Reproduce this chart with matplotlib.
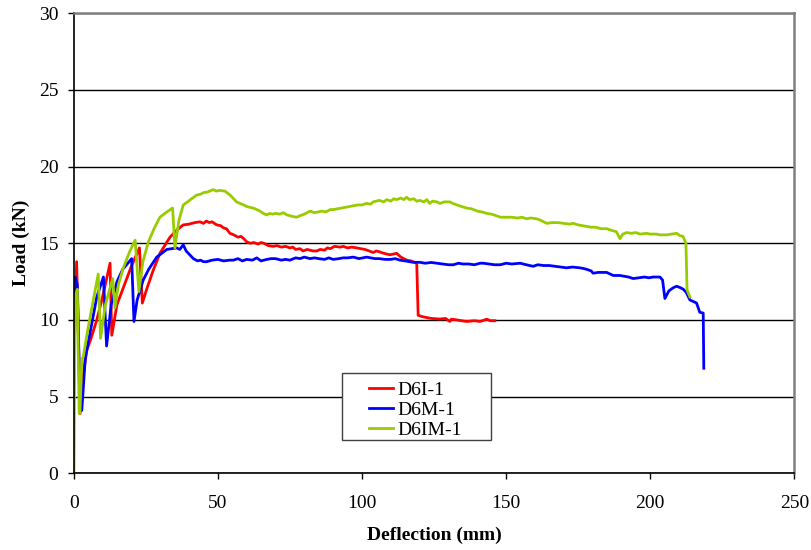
import matplotlib
matplotlib.use("Agg")
import matplotlib.pyplot as plt
from matplotlib.patches import Rectangle

# ---------------- data (deflection mm, load kN) ----------------
red_pts = [(0, 6), (0.3, 9), (1.0, 13.8), (1.5, 10), (2.2, 3.9), (3.0, 6), (4.5, 8.0), (6, 8.8),
           (8, 10), (10, 11.5), (12.6, 13.7), (13.2, 9.0), (15, 11), (18, 12.5), (20, 13.5),
           (22.8, 14.7), (23.8, 11.1), (25.3, 12.0), (27.5, 13.2), (29.9, 14.35), (33.4, 15.4),
           (36, 15.9), (38, 16.2), (40, 16.25), (42, 16.35), (43.8, 16.4), (45, 16.3), (46, 16.45),
           (47, 16.35), (48, 16.4), (49.6, 16.2), (51, 16.15), (52, 16.0), (53, 15.95),
           (54.2, 15.65), (55.5, 15.55), (57, 15.4), (58, 15.45), (59, 15.3), (60, 15.1),
           (61.2, 15.0), (62.5, 15.05), (64, 14.95), (65, 15.05), (66, 15.0), (67.5, 14.85),
           (69.2, 14.8), (70.5, 14.85), (72, 14.75), (73.5, 14.8), (75, 14.7), (76, 14.75),
           (77, 14.6), (78.5, 14.65), (79.6, 14.5), (81, 14.6), (82, 14.55), (83, 14.5),
           (84.3, 14.5), (85.5, 14.6), (87, 14.55), (88, 14.7), (89, 14.65), (90.5, 14.8),
           (92.4, 14.75), (93.5, 14.8), (95, 14.7), (96.5, 14.75), (98.2, 14.7), (99.5, 14.65),
           (101, 14.6), (102.5, 14.5), (103.9, 14.4), (105, 14.5), (106, 14.45), (107.5, 14.35),
           (109.7, 14.25), (111, 14.3), (112, 14.35), (113.5, 14.1), (115.5, 13.9), (117, 13.85),
           (118.4, 13.75), (119.0, 13.7), (119.5, 10.3), (121.3, 10.2), (124, 10.1), (127, 10.06),
           (129, 10.1), (130.5, 9.9), (131, 10.05), (133, 10.0), (134.5, 9.95), (136.3, 9.9),
           (139, 9.95), (141, 9.9), (143.3, 10.05), (144.5, 9.95), (146.1, 9.95)]

blue_pts = [(0, 6), (0.45, 12.8), (1.25, 12.3), (2.0, 6), (2.8, 4.1), (4, 7.5), (6, 9.5), (8, 11.5),
            (10.3, 12.8), (11.4, 8.3), (13, 11), (15, 12.5), (17, 13.3), (20.1, 14.0), (20.9, 9.9),
            (22, 11.3), (24.1, 12.6), (26, 13.3), (28.8, 14.1), (32.3, 14.6), (35.7, 14.7),
            (36.8, 14.6), (38, 14.9), (39, 14.5), (41.5, 14.0), (43, 13.85), (44, 13.9),
            (45, 13.8), (46.1, 13.8), (48, 13.9), (50, 13.95), (52, 13.85), (54, 13.9),
            (55.4, 13.9), (57, 14.0), (58.5, 13.85), (60, 13.95), (62, 13.9), (63.5, 14.05),
            (65, 13.85), (67, 13.95), (68.5, 14.0), (70, 14.0), (72, 13.9), (73.5, 13.95),
            (75, 13.9), (77, 14.05), (78.5, 14.0), (80, 14.1), (82, 14.0), (83.5, 14.05),
            (85, 14.0), (87, 13.95), (88.5, 14.05), (90, 13.95), (92, 14.0), (93.5, 14.05),
            (95, 14.05), (97, 14.1), (99, 14.0), (101.6, 14.1), (103, 14.05), (104.5, 14.0),
            (106, 14.0), (108, 13.95), (110, 13.95), (111.5, 14.0), (113.2, 13.9), (115, 13.85),
            (117.8, 13.76), (120.1, 13.76), (122, 13.7), (124, 13.75), (126, 13.7), (128, 13.65),
            (130, 13.6), (131.7, 13.6), (133.5, 13.7), (135, 13.65), (137, 13.65), (139, 13.6),
            (141, 13.7), (142.1, 13.7), (144, 13.65), (146, 13.6), (148, 13.6), (150, 13.7),
            (152, 13.65), (154.9, 13.7), (157, 13.6), (159.4, 13.5), (161, 13.6), (163, 13.55),
            (165, 13.55), (167, 13.5), (169, 13.45), (171, 13.4), (173, 13.45), (175.6, 13.4),
            (177, 13.35), (178, 13.3), (179.5, 13.2), (180.2, 13.05), (182, 13.1), (184.9, 13.1),
            (187.2, 12.9), (189.5, 12.9), (191, 12.85), (192.5, 12.8), (194.1, 12.7),
            (196, 12.75), (198, 12.8), (199.5, 12.75), (201, 12.8), (203.4, 12.8), (204.3, 12.6),
            (205.1, 11.4), (206.5, 11.9), (208, 12.1), (209.2, 12.2), (210.5, 12.1),
            (211.5, 12.0), (212.5, 11.8), (213.8, 11.3), (215, 11.2), (216.1, 11.1),
            (217.2, 10.5), (218.4, 10.45), (218.6, 6.85)]

green_pts = [(0, 0), (0.1, 0.2), (0.45, 11.5), (1.25, 12.0), (1.9, 3.9), (2.2, 4.1), (2.8, 7.4),
             (3.3, 7.6), (5, 9.5), (7, 11.5), (8.5, 13.0), (9.3, 8.8), (11, 11.0), (13.5, 12.7),
             (14.3, 10.8), (15.5, 12.3), (17.2, 13.4), (19.5, 14.5), (21.3, 15.2), (22.6, 11.85),
             (24, 13.8), (25.9, 15.1), (28, 16.0), (29.9, 16.7), (32, 17.0), (34.3, 17.3),
             (35.1, 14.7), (36.5, 16.5), (38, 17.5), (39.5, 17.7), (40.5, 17.85), (42.7, 18.15),
             (44, 18.2), (45, 18.3), (46.5, 18.35), (48.4, 18.5), (49.5, 18.4), (50.5, 18.45),
             (52.5, 18.4), (53.5, 18.25), (54.5, 18.1), (55.5, 17.9), (56.5, 17.7), (57.7, 17.6),
             (59, 17.5), (60, 17.4), (61, 17.35), (62.3, 17.3), (63.5, 17.2), (64.6, 17.1),
             (65.8, 16.95), (66.9, 16.85), (68, 16.95), (69, 16.9), (70, 16.95), (71.5, 16.9),
             (72.7, 17.0), (74, 16.85), (75, 16.8), (76, 16.75), (77.3, 16.7), (78.5, 16.8),
             (80, 16.9), (81, 17.0), (82, 17.1), (83.5, 17.0), (85, 17.05), (86, 17.1),
             (87.5, 17.05), (89, 17.2), (90.1, 17.2), (91.5, 17.25), (93, 17.3), (94.5, 17.35),
             (95.8, 17.4), (97, 17.45), (98.5, 17.5), (100, 17.5), (101.5, 17.6), (103, 17.55),
             (103.9, 17.7), (105, 17.75), (106, 17.8), (107.5, 17.7), (108.6, 17.85), (110, 17.75),
             (111, 17.9), (112, 17.85), (113.5, 17.95), (114.5, 17.85), (115.5, 18.0),
             (116.5, 17.85), (118, 17.9), (119, 17.75), (120.1, 17.8), (121.5, 17.7),
             (122.5, 17.85), (123.5, 17.6), (124.5, 17.75), (126, 17.7), (127.1, 17.6),
             (128.5, 17.7), (130.5, 17.7), (131.5, 17.6), (133, 17.5), (134.5, 17.4),
             (136.3, 17.3), (138, 17.25), (140, 17.1), (141.5, 17.05), (143.3, 16.95),
             (145, 16.9), (146.5, 16.8), (148.1, 16.7), (150, 16.7), (152, 16.7), (154, 16.65),
             (155.5, 16.7), (157.1, 16.6), (158.5, 16.65), (160.6, 16.6), (162, 16.5),
             (164.1, 16.3), (166, 16.35), (168, 16.35), (170, 16.3), (172, 16.25), (173.3, 16.3),
             (175, 16.2), (176.5, 16.15), (177.9, 16.1), (179.5, 16.05), (181, 16.05),
             (183, 15.95), (184.9, 15.95), (186.5, 15.85), (188.3, 15.75), (189.5, 15.3),
             (190.5, 15.6), (191.8, 15.7), (193.5, 15.65), (195, 15.7), (196.5, 15.6),
             (198.7, 15.65), (200, 15.6), (202, 15.6), (203.5, 15.55), (205.7, 15.55),
             (207.5, 15.6), (209.2, 15.65), (210.3, 15.5), (211.4, 15.45), (212.4, 15.0),
             (212.8, 11.95), (213.8, 11.5)]

series_labels = ["D6I-1", "D6M-1", "D6IM-1"]
series_colors = ["#FF0000", "#0000FF", "#99CC00"]
x_ticks = [0, 50, 100, 150, 200, 250]
y_ticks = [0, 5, 10, 15, 20, 25, 30]

# ---------------- plot ----------------
plt.rcParams['font.family'] = ['Liberation Serif', 'DejaVu Serif']

fig = plt.figure(figsize=(8.12, 5.5), dpi=100)
ax = fig.add_axes([0.0908, 0.1395, 0.8874, 0.8363])

for pts, lab, col in zip([red_pts, blue_pts, green_pts], series_labels, series_colors):
    xs = [p[0] for p in pts]
    ys = [p[1] for p in pts]
    ax.plot(xs, ys, color=col, lw=2.0, label=lab, solid_joinstyle='round')

ax.set_xlim(0, 250)
ax.set_ylim(0, 30)
ax.set_xticks(x_ticks)
ax.set_yticks(y_ticks)
ax.tick_params(axis='both', direction='out', length=4, width=1, labelsize=14, color='black')
ax.tick_params(axis='x', pad=12)
ax.tick_params(axis='y', pad=7)
ax.yaxis.grid(True, color='black', lw=1)
ax.set_axisbelow(True)

for s in ['left', 'bottom']:
    ax.spines[s].set_color('black')
    ax.spines[s].set_linewidth(1.2)
for s in ['top', 'right']:
    ax.spines[s].set_color('#808080')
    ax.spines[s].set_linewidth(1.8)

ax.set_xlabel("Deflection (mm)", fontsize=14, fontweight='bold', labelpad=10)
ax.set_ylabel("Load (kN)", fontsize=14, fontweight='bold', labelpad=6)

# legend box
box = Rectangle((0.372, 0.072), 0.207, 0.146, transform=ax.transAxes,
                facecolor='white', edgecolor='#404040', lw=1.0, zorder=5)
ax.add_patch(box)
leg = ax.legend(loc='upper left', bbox_to_anchor=(0.410, 0.200), fontsize=14,
                frameon=False, handlelength=1.25, handletextpad=0.2, labelspacing=0.12,
                borderpad=0, borderaxespad=0)
leg.set_zorder(6)

fig.savefig("out.png", dpi=100)
